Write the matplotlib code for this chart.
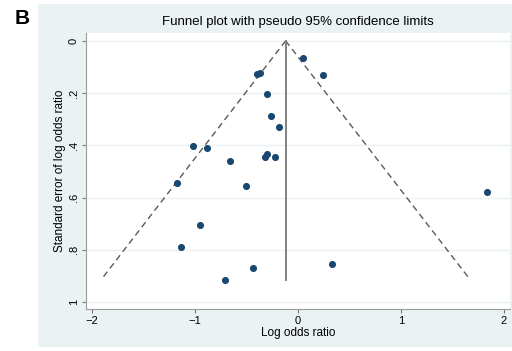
import numpy as np
import matplotlib
matplotlib.use("Agg")
import matplotlib.pyplot as plt
from matplotlib.patches import Rectangle

plt.rcParams['font.family'] = ['Liberation Sans', 'DejaVu Sans']

# study estimates
log_or = [0.045, 0.24, -0.40, -0.37, -0.30, -0.265, -0.184,
          -1.02, -0.88, -0.657, -1.18, -0.51, -0.32, -0.30, -0.22,
          -0.95, -1.14, -0.71, -0.44, 0.33, 1.84]
se = [0.066, 0.129, 0.128, 0.124, 0.204, 0.287, 0.331,
      0.401, 0.409, 0.461, 0.545, 0.557, 0.443, 0.433, 0.444,
      0.705, 0.79, 0.915, 0.87, 0.855, 0.58]

pooled = -0.12
se_max = 0.915
xticks = [-2, -1, 0, 1, 2]
yticks = [0, 0.2, 0.4, 0.6, 0.8, 1]
ytick_labels = ["0", ".2", ".4", ".6", ".8", "1"]

bg = '#eaf2f3'
navy = '#1a476f'

fig = plt.figure(figsize=(5.12, 3.51), dpi=100)
fig.patch.set_facecolor('white')
fig.patches.append(Rectangle((38 / 512, 4 / 351), 1 - 38 / 512, 343 / 351,
                             transform=fig.transFigure, facecolor=bg,
                             edgecolor='none', zorder=-10))
fig.text(15 / 512, 1 - 18 / 351, "B", fontsize=15, fontweight='bold',
         ha='left', va='center')

ax = fig.add_axes([86 / 512, 42 / 351, 424 / 512, 276 / 351])
ax.set_facecolor('white')

# pseudo 95% limits
s = np.array([0, se_max])
ax.plot(pooled - 1.96 * s, s, color='#5a5a5a', lw=1, ls=(0, (4.5, 3)))
ax.plot(pooled + 1.96 * s, s, color='#5a5a5a', lw=1, ls=(0, (4.5, 3)))
ax.plot([pooled, pooled], s, color='#808080', lw=1.4)

ax.scatter(log_or, se, s=26, color=navy, zorder=3, linewidths=0)

ax.set_xlim(-2.06, 2.06)
ax.set_ylim(1.027, -0.03)
ax.set_xticks(xticks)
ax.set_yticks(yticks)
ax.set_yticklabels(ytick_labels, rotation=90, va='center')
ax.yaxis.grid(True, color=bg, lw=1)
ax.set_axisbelow(True)
ax.tick_params(labelsize=8, color='#777777', length=3, pad=2)
for sp in ['top', 'right']:
    ax.spines[sp].set_visible(False)
for sp in ['left', 'bottom']:
    ax.spines[sp].set_color('#999999')

ax.set_xlabel("Log odds ratio", fontsize=8.5, labelpad=1)
ax.set_ylabel("Standard error of log odds ratio", fontsize=8.5, labelpad=2)
ax.set_title("Funnel plot with pseudo 95% confidence limits", fontsize=9.5, pad=6)

fig.savefig("out.png", dpi=100)
